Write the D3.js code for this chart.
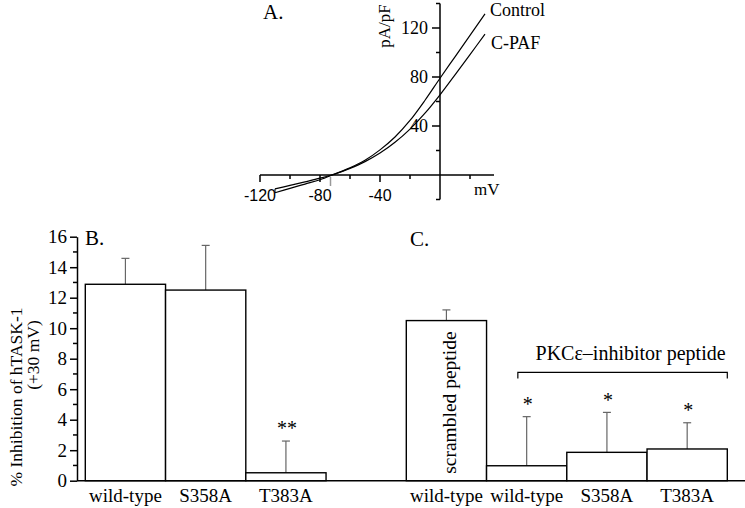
<!DOCTYPE html>
<html><head><meta charset="utf-8">
<script src="https://cdn.jsdelivr.net/npm/d3@7/dist/d3.min.js"></script>
<style>
body{margin:0;background:#fff;}
svg{display:block;}
text{font-family:"Liberation Serif","Times New Roman",serif;fill:#000;}
</style></head>
<body>
<svg id="chart" width="745" height="508"></svg>
<script>
// ---------- Panel A data (I-V curves) ----------
const ivVoltage = [-110,-100,-90,-80,-70,-60,-50,-40,-30,-20,-10,0,10,20,30];
const ivControl = [-14.5,-10.9,-7.4,-3.9,0.9,5.8,12,20.5,31,44.5,61,79,96.5,114,131.5];
const ivCPAF    = [-11.3,-8.5,-5.6,-2.6,0.8,5.4,10.9,17.9,26.7,37.5,50.5,65.5,81.8,98.3,115];
const ivSeries  = ["Control","C-PAF"];
const ivXTicks  = [-120,-80,-40];
const ivXMinor  = [-100,-60,-20,20];
const ivYTicks  = [40,80,120];
const ivYMinor  = [-20,20,60,100,140];
const ivReversal = -73;

// ---------- Panel B / C data ----------
const catsB  = ["wild-type","S358A","T383A"];
const meansB = [12.88,12.5,0.52];
const errsB  = [1.7,2.93,2.08];
const sigB   = ["","","**"];
const catsC  = ["wild-type","wild-type","S358A","T383A"];
const meansC = [10.5,0.98,1.86,2.08];
const errsC  = [0.7,3.22,2.62,1.72];
const sigC   = ["","*","*","*"];
const barYTicks = [0,2,4,6,8,10,12,14,16];
const yTitle1 = "% Inhibition of hTASK-1";
const yTitle2 = "(+30 mV)";
const bracketLabel = "PKCε–inhibitor peptide";
const innerLabel = "scrambled peptide";

const SERIF = "'Liberation Serif','Times New Roman',serif";
const svg = d3.select("#chart");

// ================= Panel A =================
const ax = d3.scaleLinear().domain([-120,36]).range([260,494]);
const ay = d3.scaleLinear().domain([-20,140]).range([199.5,3.5]);
const gA = svg.append("g");

gA.append("line").attr("x1",ax(-120)).attr("x2",ax(36)).attr("y1",ay(0)).attr("y2",ay(0))
  .attr("stroke","#000").attr("stroke-width",1.5);
gA.selectAll(".xmaj").data(ivXTicks).enter().append("line")
  .attr("x1",d=>ax(d)).attr("x2",d=>ax(d)).attr("y1",ay(0)).attr("y2",ay(0)+7)
  .attr("stroke","#000").attr("stroke-width",1.5);
gA.selectAll(".xmin").data(ivXMinor).enter().append("line")
  .attr("x1",d=>ax(d)).attr("x2",d=>ax(d)).attr("y1",ay(0)).attr("y2",ay(0)+4)
  .attr("stroke","#000").attr("stroke-width",1.5);
gA.append("line").attr("x1",ax(ivReversal)).attr("x2",ax(ivReversal))
  .attr("y1",ay(0)+2).attr("y2",ay(0)+11).attr("stroke","#999").attr("stroke-width",1.5);
gA.selectAll(".xlab").data(ivXTicks).enter().append("text")
  .attr("x",d=>ax(d)).attr("y",201).attr("text-anchor","middle")
  .style("font-family","'Liberation Sans',Arial,sans-serif").style("font-size","16px")
  .text(d=>d);

gA.append("line").attr("x1",ax(0)).attr("x2",ax(0)).attr("y1",ay(-20)).attr("y2",ay(140))
  .attr("stroke","#000").attr("stroke-width",1.5);
gA.selectAll(".ymaj").data(ivYTicks).enter().append("line")
  .attr("x1",ax(0)-8).attr("x2",ax(0)).attr("y1",d=>ay(d)).attr("y2",d=>ay(d))
  .attr("stroke","#000").attr("stroke-width",1.5);
gA.selectAll(".ymin").data(ivYMinor).enter().append("line")
  .attr("x1",ax(0)-4).attr("x2",ax(0)).attr("y1",d=>ay(d)).attr("y2",d=>ay(d))
  .attr("stroke","#000").attr("stroke-width",1.5);
gA.selectAll(".ylab").data(ivYTicks).enter().append("text")
  .attr("x",ax(0)-12).attr("y",d=>ay(d)+6).attr("text-anchor","end")
  .style("font-family",SERIF).style("font-size","18px").text(d=>d);

const line = d3.line().x(d=>ax(d[0])).y(d=>ay(d[1])).curve(d3.curveCatmullRom.alpha(0.5));
const seriesData = [ivControl, ivCPAF].map(vals => ivVoltage.map((v,i)=>[v, vals[i]]));
gA.selectAll(".curve").data(seriesData).enter().append("path")
  .attr("d",line).attr("fill","none").attr("stroke","#000").attr("stroke-width",1.2);
gA.append("line").attr("x1",ax(ivVoltage[0])).attr("x2",ax(ivVoltage[0]))
  .attr("y1",ay(ivControl[0])).attr("y2",ay(ivCPAF[0])).attr("stroke","#000").attr("stroke-width",1);

gA.append("text").attr("x",490).attr("y",16).style("font-family",SERIF).style("font-size","18px").text(ivSeries[0]);
gA.append("text").attr("x",491).attr("y",49).style("font-family",SERIF).style("font-size","18px").text(ivSeries[1]);
gA.append("text").attr("x",474).attr("y",195).style("font-family",SERIF).style("font-size","17px").text("mV");
gA.append("text").attr("transform","translate(390,26) rotate(-90)").attr("text-anchor","middle")
  .style("font-family",SERIF).style("font-size","17px").text("pA/pF");
gA.append("text").attr("x",263).attr("y",19).style("font-family",SERIF).style("font-size","21px").text("A.");

// ================= Panels B & C =================
const slots = ["B0","B1","B2","gap","C0","C1","C2","C3"];
const bx = d3.scaleBand().domain(slots).range([85.3,727.3]).padding(0);
const by = d3.scaleLinear().domain([0,16]).range([480.7,236.7]);
const axisX = 77;

const bars = [];
catsB.forEach((c,i)=>bars.push({slot:"B"+i,label:c,mean:meansB[i],err:errsB[i],sig:sigB[i]}));
catsC.forEach((c,i)=>bars.push({slot:"C"+i,label:c,mean:meansC[i],err:errsC[i],sig:sigC[i]}));

const gB = svg.append("g");
const yAxis = d3.axisLeft(by).tickValues(barYTicks).tickSize(7).tickPadding(3).tickSizeOuter(0);
const yg = gB.append("g").attr("transform",`translate(${axisX},0)`).call(yAxis);
yg.attr("font-family",null);
yg.select(".domain").attr("stroke","#000").attr("stroke-width",1.5);
yg.selectAll(".tick line").attr("stroke","#000").attr("stroke-width",1.5);
yg.selectAll(".tick text").style("font-family",SERIF).style("font-size","19px").attr("fill","#000");
gB.selectAll(".minor").data(d3.range(1,16,2)).enter().append("line")
  .attr("x1",axisX-4).attr("x2",axisX).attr("y1",d=>by(d)).attr("y2",d=>by(d))
  .attr("stroke","#000").attr("stroke-width",1.5);

const capW = 4;
const eb = gB.selectAll(".err").data(bars).enter().append("g");
eb.append("line").attr("x1",d=>bx(d.slot)+bx.bandwidth()/2).attr("x2",d=>bx(d.slot)+bx.bandwidth()/2)
  .attr("y1",d=>by(d.mean)).attr("y2",d=>by(d.mean+d.err)).attr("stroke","#666").attr("stroke-width",1.2);
eb.append("line").attr("x1",d=>bx(d.slot)+bx.bandwidth()/2-capW).attr("x2",d=>bx(d.slot)+bx.bandwidth()/2+capW)
  .attr("y1",d=>by(d.mean+d.err)).attr("y2",d=>by(d.mean+d.err)).attr("stroke","#666").attr("stroke-width",1.2);

gB.selectAll(".bar").data(bars).enter().append("rect")
  .attr("x",d=>bx(d.slot)).attr("width",bx.bandwidth())
  .attr("y",d=>by(d.mean)).attr("height",d=>by(0)-by(d.mean))
  .attr("fill","#fff").attr("stroke","#000").attr("stroke-width",1.4);

gB.append("line").attr("x1",axisX).attr("x2",745).attr("y1",by(0)).attr("y2",by(0))
  .attr("stroke","#000").attr("stroke-width",1.6);

gB.selectAll(".xl").data(bars).enter().append("text")
  .attr("x",d=>bx(d.slot)+bx.bandwidth()/2).attr("y",502).attr("text-anchor","middle")
  .style("font-family",SERIF).style("font-size","19px").text(d=>d.label);

gB.selectAll(".sig").data(bars.filter(d=>d.sig)).enter().append("text")
  .attr("x",d=>bx(d.slot)+bx.bandwidth()/2+1).attr("y",d=>by(d.mean+d.err+1.0)+9.5)
  .attr("text-anchor","middle").style("font-family",SERIF).style("font-size","20px").text(d=>d.sig);

const scr = bars.find(d=>d.slot==="C0");
gB.append("text").attr("transform",`translate(${bx(scr.slot)+bx.bandwidth()/2+10},${by(scr.mean/2)+2}) rotate(-90)`)
  .attr("text-anchor","middle").style("font-family",SERIF).style("font-size","19.5px").text(innerLabel);

const bl = bx("C1")+bx.bandwidth()*0.39, br = bx("C3")+bx.bandwidth(), byy = by(7.1);
gB.append("path").attr("d",`M${bl},${byy+6}V${byy}H${br}V${byy+6}`)
  .attr("fill","none").attr("stroke","#000").attr("stroke-width",1.2);
gB.append("text").attr("x",(bl+br)/2+8).attr("y",byy-12).attr("text-anchor","middle")
  .style("font-family",SERIF).style("font-size","20px").text(bracketLabel);

gB.append("text").attr("transform","translate(22,397) rotate(-90)").attr("text-anchor","middle")
  .style("font-family",SERIF).style("font-size","17.5px").text(yTitle1);
gB.append("text").attr("transform","translate(39,355) rotate(-90)").attr("text-anchor","middle")
  .style("font-family",SERIF).style("font-size","17.5px").text(yTitle2);

gB.append("text").attr("x",85).attr("y",245).style("font-family",SERIF).style("font-size","21px").text("B.");
gB.append("text").attr("x",410).attr("y",246).style("font-family",SERIF).style("font-size","21px").text("C.");
</script>
</body></html>
